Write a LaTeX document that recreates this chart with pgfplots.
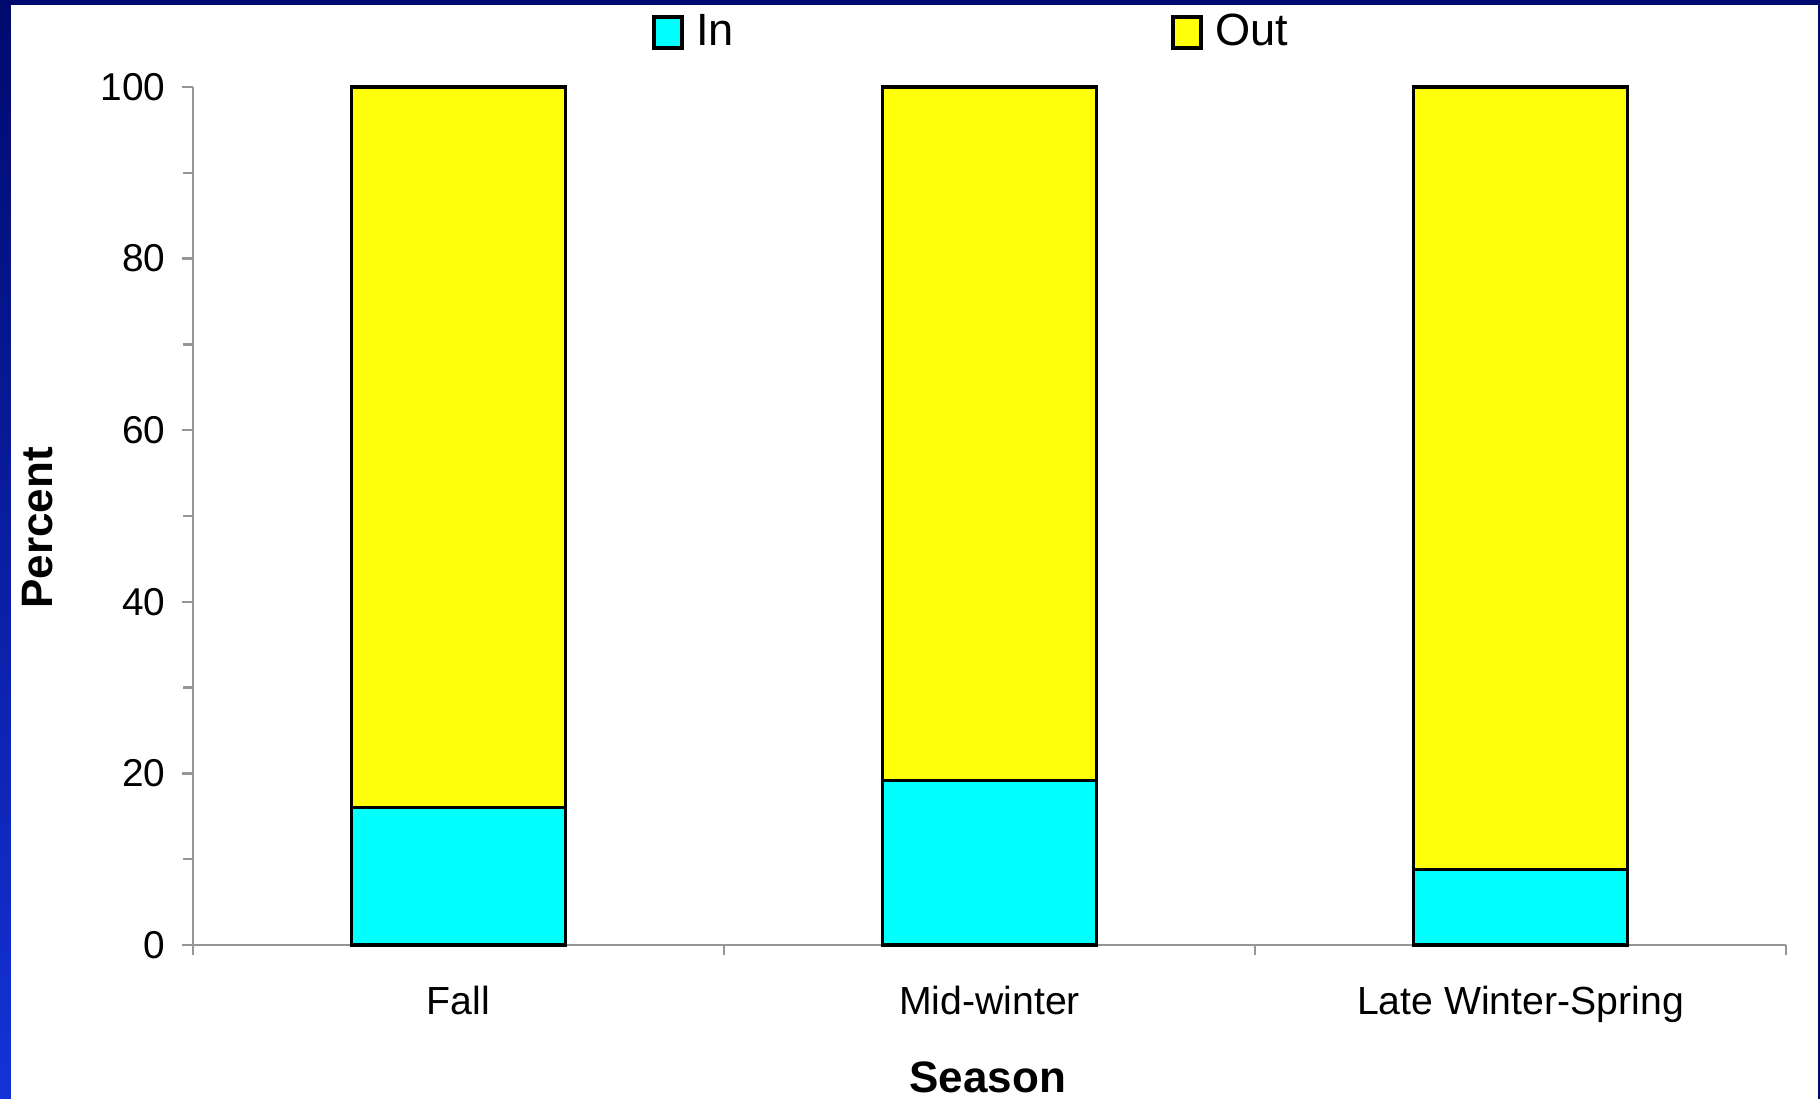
\documentclass[border=0pt]{standalone}
\usepackage{pgfplots}
\pgfplotsset{compat=1.18}
\usepackage{fontspec}
\setmainfont{Liberation Sans}
\definecolor{navyc}{RGB}{0,10,110}
\definecolor{brightb}{RGB}{20,50,215}
\definecolor{axgray}{RGB}{150,150,150}
\definecolor{cyanc}{RGB}{0,255,255}
\definecolor{yellowc}{RGB}{255,255,10}
\begin{document}
\begin{tikzpicture}
\fill[navyc] (0,0) rectangle (455pt,274.75pt);
\shade[top color=navyc, bottom color=brightb] (0,0) rectangle (2.75pt,273.5pt);
\fill[white] (2.75pt,0) rectangle (454.5pt,273.5pt);
\begin{axis}[
  at={(48.25pt,38.5pt)}, anchor=south west,
  scale only axis, width=398.25pt, height=214.5pt,
  ybar stacked, bar width=53.5pt,
  xmin=-0.5, xmax=2.5, ymin=0, ymax=100,
  clip=false,
  axis x line*=bottom, axis y line*=left,
  axis line style={draw=axgray, line width=0.6pt, -},
  xtick={0,1,2},
  xticklabels={Fall, Mid-winter, Late Winter-Spring},
  major x tick style={draw=none},
  minor xtick={-0.5,0.5,1.5,2.5},
  ytick={0,20,40,60,80,100},
  minor ytick={10,30,50,70,90},
  tick align=outside,
  major tick length=2.75pt, minor tick length=2.4pt,
  tick style={draw=axgray, line width=0.6pt},
  /pgf/number format/assume math mode=true,
  yticklabel style={xshift=-0.6pt, font=\fontsize{9.7}{11}\selectfont},
  xticklabel style={yshift=-4.1pt, font=\fontsize{9.8}{11}\selectfont},
  xlabel={Season}, ylabel={Percent},
  xlabel style={at={(axis description cs:0.499,-0.154)}, anchor=center, font=\fontsize{11}{13}\selectfont\bfseries},
  ylabel style={at={(axis description cs:-0.0973,0.486)}, anchor=center, font=\fontsize{11}{13}\selectfont\bfseries},
  legend columns=2,
  legend style={at={(axis description cs:0.2875,1.0634)}, anchor=west, draw=none, fill=none, inner sep=0pt,
    font=\fontsize{11.3}{13}\selectfont,
    /tikz/every odd column/.append style={column sep=0pt},
    /tikz/every even column/.append style={column sep=107.2pt}},
]
\addplot[fill=cyanc, draw=black, line width=0.8pt,
  legend image code/.code={\draw[fill=cyanc, draw=black, line width=1pt] (0pt,-3.8pt) rectangle (7pt,3.8pt); \path (8.2pt,0pt);}]
  coordinates {(0,16.0) (1,19.2) (2,8.8)};
\addplot[fill=yellowc, draw=black, line width=0.8pt,
  legend image code/.code={\draw[fill=yellowc, draw=black, line width=1pt] (0pt,-3.8pt) rectangle (7pt,3.8pt); \path (8.2pt,0pt);}]
  coordinates {(0,84.0) (1,80.8) (2,91.2)};
\legend{In, Out}
\end{axis}
\pgfresetboundingbox
\useasboundingbox (0,0) rectangle (455pt,274.75pt);
\end{tikzpicture}
\end{document}
